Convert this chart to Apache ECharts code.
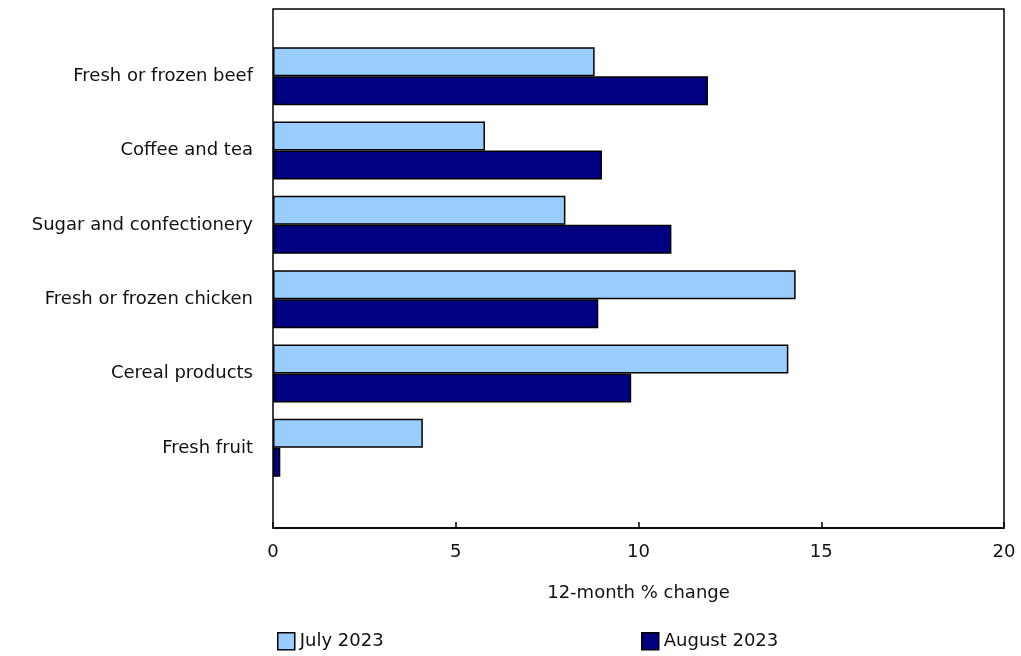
<!DOCTYPE html>
<html>
<head>
<meta charset="utf-8">
<script src="https://cdn.jsdelivr.net/npm/echarts@6/dist/echarts.min.js"></script>
<style>html,body{margin:0;padding:0;background:#fff}#c{width:1021px;height:656px}</style>
</head>
<body>
<div id="c"></div>
<script>
const categories = ['Fresh or frozen beef','Coffee and tea','Sugar and confectionery','Fresh or frozen chicken','Cereal products','Fresh fruit'];
const july2023 = [8.8, 5.8, 8.0, 14.3, 14.1, 4.1];
const august2023 = [11.9, 9.0, 10.9, 8.9, 9.8, 0.2];
const xTicks = [0, 5, 10, 15, 20];
const seriesNames = ['July 2023', 'August 2023'];

const font = 'DejaVu Sans';
const txt = '#111';
const chart = echarts.init(document.getElementById('c'), null, {renderer: 'canvas'});
chart.setOption({
  animation: false,
  backgroundColor: '#fff',
  textStyle: {fontFamily: font},
  grid: [
    {left: 273, right: 17, top: 9, bottom: 128, show: true, borderColor: '#000', borderWidth: 1.5, backgroundColor: 'transparent'},
    {left: 273, right: 17, top: 39, bottom: 171}
  ],
  legend: [
    {data: [seriesNames[0]], icon: 'rect', left: 272, top: 627, itemWidth: 17, itemHeight: 17, itemGap: 6,
     itemStyle: {borderColor: '#000', borderWidth: 1.5},
     textStyle: {fontFamily: font, fontSize: 18, color: txt}},
    {data: [seriesNames[1]], icon: 'rect', left: 636, top: 627, itemWidth: 17, itemHeight: 17, itemGap: 6,
     itemStyle: {borderColor: '#000', borderWidth: 1.5},
     textStyle: {fontFamily: font, fontSize: 18, color: txt}}
  ],
  xAxis: [
    {type: 'value', gridIndex: 0, min: xTicks[0], max: xTicks[xTicks.length-1], interval: 5,
     name: '12-month % change', nameLocation: 'middle', nameGap: 56,
     nameTextStyle: {fontFamily: font, fontSize: 18, color: txt},
     axisLine: {show: true, lineStyle: {color: '#000', width: 1.5}},
     axisTick: {show: true, inside: true, length: 6, lineStyle: {color: '#000', width: 1.5}},
     axisLabel: {fontFamily: font, fontSize: 18, color: txt, margin: 15},
     splitLine: {show: false}},
    {type: 'value', gridIndex: 1, min: xTicks[0], max: xTicks[xTicks.length-1], show: false, splitLine: {show: false}}
  ],
  yAxis: [
    {type: 'value', gridIndex: 0, show: false, splitLine: {show: false}},
    {type: 'category', gridIndex: 1, data: categories, inverse: true,
     axisLine: {show: false}, axisTick: {show: false},
     axisLabel: {fontFamily: font, fontSize: 18, color: txt, margin: 20}}
  ],
  series: [
    {name: seriesNames[0], type: 'bar', xAxisIndex: 1, yAxisIndex: 1, data: july2023,
     barWidth: 29, barGap: '0%',
     itemStyle: {color: '#99ccff', borderColor: '#000', borderWidth: 1.5}},
    {name: seriesNames[1], type: 'bar', xAxisIndex: 1, yAxisIndex: 1, data: august2023,
     barWidth: 29, barGap: '0%',
     itemStyle: {color: '#000080', borderColor: '#000', borderWidth: 1.5}}
  ]
});
</script>
</body>
</html>
